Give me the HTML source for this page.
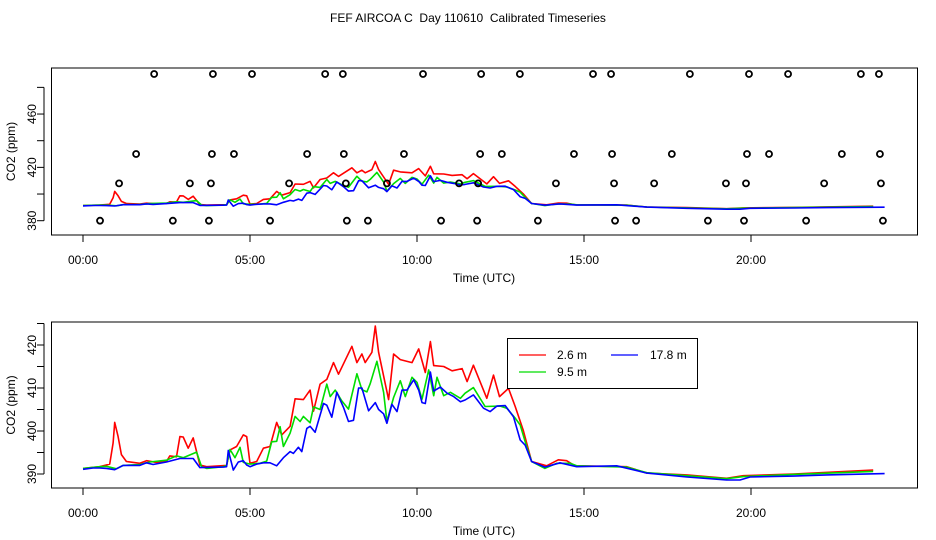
<!DOCTYPE html>
<html><head><meta charset="utf-8"><style>
html,body{margin:0;padding:0;background:#fff;}
svg{display:block;font-family:"Liberation Sans",sans-serif;}
</style></head><body>
<svg id="chart" width="936" height="540" viewBox="0 0 936 540" xmlns="http://www.w3.org/2000/svg">
<rect width="936" height="540" fill="#fff"/>
<text x="468" y="22" font-size="12" text-anchor="middle" style="white-space:pre">FEF AIRCOA C  Day 110610  Calibrated Timeseries</text>
<g id="top"></g><g id="bot"></g>
</svg>
<script>
const hoursRed=[0,0.5,0.8,0.9,0.95,1.05,1.15,1.3,1.7,1.9,2.2,2.5,2.6,2.8,2.9,3.0,3.15,3.3,3.5,3.7,4.3,4.4,4.6,4.8,4.9,5.0,5.2,5.4,5.6,5.8,5.95,6.2,6.35,6.6,6.8,6.9,7.1,7.3,7.5,7.65,8.05,8.2,8.35,8.45,8.65,8.75,8.85,9.15,9.3,9.5,9.85,10.05,10.25,10.4,10.5,10.8,11.05,11.35,11.5,11.69,12.09,12.29,12.47,12.74,12.94,13.18,13.43,13.88,14.23,14.48,14.73,16.28,16.88,18.08,19.27,19.77,21.27,23.66];
const valsRed=[391.3,391.7,392.3,397.2,402,398.7,394.5,392.9,392.5,393.1,392.7,392.9,394.2,394,398.7,398.6,396,398.4,392.1,391.7,392,395.6,396.4,399.1,398.7,392.5,392.9,396,396.4,402,399.1,401.1,407.5,407.3,409.5,404.6,410.9,412,415.9,413.2,419.7,415.9,417.9,415.9,418.3,424.4,418.3,407.3,417.9,416.6,415.9,419.1,413.6,420.8,415.2,415,414,414.5,411.5,415.3,407.6,413,408,409.9,405.7,400.2,392.9,391.9,393.3,393.1,391.9,391.7,390.2,389.8,389,389.6,390,390.9];
const hoursGreen=[0,0.5,0.7,1.0,1.2,1.7,2.0,2.5,2.8,3.0,3.4,3.55,3.7,4.2,4.3,4.4,4.55,4.7,4.8,5.0,5.3,5.5,5.65,5.8,5.9,6.0,6.2,6.35,6.5,6.6,6.8,6.9,7.1,7.3,7.4,7.55,7.75,7.95,8.2,8.35,8.5,8.6,8.8,9.0,9.1,9.3,9.5,9.65,9.85,10.0,10.15,10.35,10.5,10.6,10.8,11.0,11.3,11.44,11.69,12.04,12.49,12.69,12.94,13.09,13.24,13.43,13.83,14.18,14.58,14.78,16.28,16.88,18.08,19.27,19.77,21.27,23.66];
const valsGreen=[391.3,391.7,391.8,391.2,392,392.2,392.8,393.2,394.2,393.8,395.1,391.7,391.3,391.7,392,395.7,393.8,396.2,392.7,392.3,392.5,393,397.5,397.6,401,396.4,399.5,403.4,402.2,403.4,401.9,405.6,405,410.9,408,409.5,407,405.1,413.3,409.6,409.1,411,416.2,409,402.2,407.8,411.7,408,412.5,411.3,407.4,414.2,408.2,412.5,408.2,409,407.6,408.8,410.1,405.7,405.8,405.3,403,401.4,397.5,392.9,391.3,392.5,392.5,391.9,391.6,390.3,389.6,388.9,389.4,389.9,390.6];
const hoursBlue=[0,0.3,0.5,0.7,0.95,1.2,1.7,1.9,2.1,2.5,2.9,3.3,3.5,4.2,4.3,4.35,4.5,4.65,4.8,4.9,5.0,5.2,5.4,5.6,5.8,6.0,6.2,6.3,6.45,6.55,6.7,6.8,6.95,7.2,7.3,7.45,7.6,7.8,7.95,8.1,8.25,8.35,8.55,8.75,8.85,9.0,9.1,9.25,9.4,9.55,9.7,9.9,10.05,10.15,10.25,10.4,10.5,10.7,10.9,11.1,11.3,11.44,11.69,11.99,12.19,12.39,12.64,12.89,13.09,13.24,13.43,13.83,14.28,14.78,15.98,16.88,18.08,19.27,19.67,19.97,21.27,22.27,24.0];
const valsBlue=[391.1,391.4,391.4,391.3,391,392,392,392.6,392.2,392.8,393.6,393.6,391.5,391.6,391.7,395.5,390.9,392.8,393.1,392.1,391.7,392.3,392.6,392.6,391.9,393.8,395.2,394.8,396.2,395.2,400.6,401.1,399.7,406.4,406,403.2,409,405.5,402.2,402.5,410,410,404.7,406.6,405,404,401.8,406.2,404.5,409.5,409.5,411.9,409.5,406.6,406.4,413.7,409.3,410.2,408.8,408,406.8,407.2,408.4,405.3,404.5,405.8,405.9,403.3,397.9,396.7,392.9,391.6,392.6,391.7,391.9,390.2,389.3,388.6,388.6,389.3,389.5,389.8,390.1];
const flagLevels=[490,430,408,380];
const flagHours=[
[2.13,3.89,5.06,7.25,7.78,10.18,11.92,13.08,15.27,15.81,18.17,19.94,21.11,23.29,23.83],
[1.59,3.86,4.52,6.71,7.81,9.61,11.89,12.54,14.70,15.84,17.63,19.88,20.54,22.72,23.86],
[1.08,3.20,3.83,6.17,7.87,9.10,11.26,11.83,14.16,15.90,17.10,19.25,19.85,22.19,23.89],
[0.51,2.69,3.77,5.60,7.90,8.53,10.72,11.80,13.62,15.93,16.56,18.71,19.79,21.65,23.95]];
const xTickLabels=["00:00","05:00","10:00","15:00","20:00"];
const xTickHours=[0,5,10,15,20];
const topYTicks=[380,400,420,440,460,480];
const topYLabels=[380,420,460];
const botYTicks=[390,395,400,405,410,415,420,425];
const botYLabels=[390,400,410,420];

const NS="http://www.w3.org/2000/svg";
function mk(parent,tag,attrs){const e=document.createElementNS(NS,tag);for(const k in attrs)e.setAttribute(k,attrs[k]);parent.appendChild(e);return e;}
const xScale=h=>83+33.4*h;

function panel(g,top,bottom,yOf,yTicks,yLabels,prefix){
  const box=mk(g,'rect',{x:51.5,y:top,width:866,height:bottom-top,fill:'none',stroke:'#000','stroke-width':1});
  
  
  xTickHours.forEach((h,i)=>{
    const x=xScale(h);
    const t=mk(g,'line',{x1:x,x2:x,y1:bottom,y2:bottom+7,stroke:'#000'});
    
    
    const l=mk(g,'text',{x:x,y:bottom+29,'font-size':12,'text-anchor':'middle'});
    l.textContent=xTickLabels[i];
    
    
  });
  const xt=mk(g,'text',{x:484,y:bottom+47,'font-size':12,'text-anchor':'middle'});
  xt.textContent='Time (UTC)';
  
  
  const ya=mk(g,'line',{x1:44,x2:44,y1:yOf(yTicks[0]),y2:yOf(yTicks[yTicks.length-1]),stroke:'#000'});
  
  
  yTicks.forEach(v=>{
    const t=mk(g,'line',{x1:37,x2:44,y1:yOf(v),y2:yOf(v),stroke:'#000'});
    
    
  });
  yLabels.forEach(v=>{
    const y=yOf(v);
    const l=mk(g,'text',{x:0,y:0,'font-size':12,'text-anchor':'middle',transform:`translate(36,${y}) rotate(-90)`});
    l.textContent=v;
    
    
  });
  const yt=mk(g,'text',{x:0,y:0,'font-size':12,'text-anchor':'middle',transform:`translate(15,${(top+bottom)/2}) rotate(-90)`});
  yt.textContent='CO2 (ppm)';
  
  
  const series=[[hoursRed,valsRed,'#ff0000','red'],[hoursGreen,valsGreen,'#00dd00','green'],[hoursBlue,valsBlue,'#0000ff','blue']];
  series.forEach(s=>{
    const d=s[0].map((h,i)=>(i?'L':'M')+xScale(h).toFixed(1)+','+yOf(s[1][i]).toFixed(1)).join('');
    const p=mk(g,'path',{d:d,fill:'none',stroke:s[2],'stroke-width':1.6,'stroke-linejoin':'round'});
    
    
  });
}
const topY=v=>220.7-(v-380)*1.3333;
const botY=v=>474-(v-390)*4.3;
panel(document.getElementById('top'),68,235,topY,topYTicks,topYLabels,'top');
panel(document.getElementById('bot'),322,488,botY,botYTicks,botYLabels,'bottom');

const tg=document.getElementById('top');
flagLevels.forEach((lv,i)=>{
  flagHours[i].forEach(h=>{
    const c=mk(tg,'circle',{cx:xScale(h),cy:topY(lv),r:3,fill:'none',stroke:'#000','stroke-width':1.8});
    
    
  });
});

const bg=document.getElementById('bot');
const leg=mk(bg,'g',{});


mk(leg,'rect',{x:507.5,y:338.5,width:190,height:50,fill:'#fff',stroke:'#000'});
const entries=[[519,355,'#ff0000','2.6 m',557],[519,372,'#00dd00','9.5 m',557],[611,355,'#0000ff','17.8 m',650]];
entries.forEach(e=>{
  const g=mk(leg,'g',{});
  
  
  mk(g,'line',{x1:e[0],x2:e[0]+27,y1:e[1],y2:e[1],stroke:e[2],'stroke-width':1.2});
  const t=mk(g,'text',{x:e[4],y:e[1]+4,'font-size':12});
  t.textContent=e[3];
});
</script>
</body></html>
